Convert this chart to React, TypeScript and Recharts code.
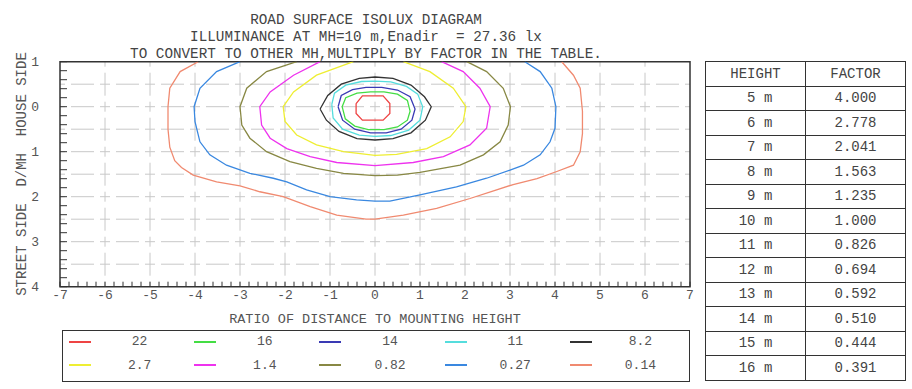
import React from 'react'
import { LineChart, Line, XAxis, YAxis, CartesianGrid, ReferenceArea, Legend } from 'recharts'

const FONT = '"Liberation Mono", "DejaVu Sans Mono", monospace'

// isolux levels (lx) and their colours, in legend order
const levels = ['22', '16', '14', '11', '8.2', '2.7', '1.4', '0.82', '0.27', '0.14']
const colors = ['#ee4444', '#44dd44', '#3a3ab4', '#55dddd', '#333333', '#eeee33', '#ee33ee', '#888844', '#3a88e0', '#f08a70']

// x = distance / MH, y = distance / MH (negative = house side, positive = street side)
const lux22 = [
  { x: -0.42, y: -0.07 }, { x: -0.28, y: -0.24 }, { x: 0.18, y: -0.24 }, { x: 0.33, y: -0.07 },
  { x: 0.33, y: 0.15 }, { x: 0.18, y: 0.3 }, { x: -0.28, y: 0.3 }, { x: -0.42, y: 0.15 }, { x: -0.42, y: -0.07 }
]
const lux16 = [
  { x: -0.73, y: 0 }, { x: -0.65, y: -0.2 }, { x: -0.4, y: -0.3 }, { x: -0.1, y: -0.33 }, { x: 0.2, y: -0.33 },
  { x: 0.5, y: -0.28 }, { x: 0.72, y: -0.14 }, { x: 0.78, y: 0.1 }, { x: 0.72, y: 0.3 }, { x: 0.5, y: 0.45 },
  { x: 0.2, y: 0.51 }, { x: -0.15, y: 0.51 }, { x: -0.45, y: 0.43 }, { x: -0.66, y: 0.27 }, { x: -0.73, y: 0 }
]
const lux14 = [
  { x: -0.82, y: 0 }, { x: -0.75, y: -0.25 }, { x: -0.5, y: -0.38 }, { x: -0.2, y: -0.43 }, { x: 0.15, y: -0.43 },
  { x: 0.5, y: -0.37 }, { x: 0.78, y: -0.22 }, { x: 0.89, y: 0.05 }, { x: 0.82, y: 0.3 }, { x: 0.58, y: 0.5 },
  { x: 0.25, y: 0.58 }, { x: -0.1, y: 0.58 }, { x: -0.45, y: 0.5 }, { x: -0.72, y: 0.3 }, { x: -0.82, y: 0 }
]
const lux11 = [
  { x: -0.96, y: -0.05 }, { x: -0.9, y: -0.3 }, { x: -0.65, y: -0.48 }, { x: -0.3, y: -0.56 }, { x: 0, y: -0.57 },
  { x: 0.35, y: -0.55 }, { x: 0.7, y: -0.45 }, { x: 0.95, y: -0.28 }, { x: 1.06, y: 0 }, { x: 1.0, y: 0.3 },
  { x: 0.75, y: 0.52 }, { x: 0.35, y: 0.64 }, { x: 0, y: 0.66 }, { x: -0.35, y: 0.63 }, { x: -0.72, y: 0.5 },
  { x: -0.93, y: 0.25 }, { x: -0.96, y: -0.05 }
]
const lux8_2 = [
  { x: -1.22, y: 0.05 }, { x: -1.05, y: -0.25 }, { x: -0.75, y: -0.5 }, { x: -0.35, y: -0.63 }, { x: 0, y: -0.66 },
  { x: 0.4, y: -0.63 }, { x: 0.8, y: -0.48 }, { x: 1.1, y: -0.22 }, { x: 1.25, y: 0 }, { x: 1.12, y: 0.3 },
  { x: 0.8, y: 0.58 }, { x: 0.4, y: 0.71 }, { x: 0, y: 0.74 }, { x: -0.4, y: 0.71 }, { x: -0.8, y: 0.55 },
  { x: -1.08, y: 0.3 }, { x: -1.22, y: 0.05 }
]
const lux2_7 = [
  { x: -0.48, y: -1 }, { x: -1.3, y: -0.7 }, { x: -1.81, y: -0.33 }, { x: -2.04, y: 0 }, { x: -2.0, y: 0.33 },
  { x: -1.74, y: 0.63 }, { x: -1.3, y: 0.85 }, { x: -0.7, y: 1.0 }, { x: 0, y: 1.08 }, { x: 0.48, y: 1.06 },
  { x: 1.15, y: 0.93 }, { x: 1.67, y: 0.67 }, { x: 1.96, y: 0.33 }, { x: 2.02, y: 0 }, { x: 1.74, y: -0.41 },
  { x: 1.22, y: -0.78 }, { x: 0.63, y: -1 }
]
const lux1_4 = [
  { x: -1.22, y: -1 }, { x: -1.81, y: -0.7 }, { x: -2.33, y: -0.33 }, { x: -2.56, y: 0 }, { x: -2.52, y: 0.41 },
  { x: -2.33, y: 0.7 }, { x: -1.96, y: 0.93 }, { x: -1.44, y: 1.11 }, { x: -0.85, y: 1.24 }, { x: 0, y: 1.31 },
  { x: 0.85, y: 1.24 }, { x: 1.52, y: 1.11 }, { x: 2.11, y: 0.85 }, { x: 2.48, y: 0.48 }, { x: 2.56, y: 0 },
  { x: 2.33, y: -0.41 }, { x: 1.96, y: -0.78 }, { x: 1.48, y: -1 }
]
const lux0_82 = [
  { x: -1.74, y: -1 }, { x: -2.41, y: -0.78 }, { x: -2.85, y: -0.41 }, { x: -3.0, y: 0 }, { x: -2.96, y: 0.41 },
  { x: -2.78, y: 0.7 }, { x: -2.41, y: 1.0 }, { x: -1.89, y: 1.22 }, { x: -1.3, y: 1.37 }, { x: -0.7, y: 1.48 },
  { x: 0, y: 1.53 }, { x: 0.5, y: 1.52 }, { x: 1.0, y: 1.46 }, { x: 1.89, y: 1.3 }, { x: 2.41, y: 1.07 },
  { x: 2.78, y: 0.78 }, { x: 2.96, y: 0.41 }, { x: 3.01, y: 0 }, { x: 2.85, y: -0.41 }, { x: 2.48, y: -0.78 },
  { x: 2.04, y: -1 }
]
const lux0_27 = [
  { x: -3.0, y: -1 }, { x: -3.52, y: -0.78 }, { x: -3.89, y: -0.41 }, { x: -4.02, y: 0 }, { x: -4.0, y: 0.33 },
  { x: -3.89, y: 0.78 }, { x: -3.67, y: 1.07 }, { x: -3.3, y: 1.3 }, { x: -2.78, y: 1.48 }, { x: -2.26, y: 1.59 },
  { x: -1.96, y: 1.67 }, { x: -1.52, y: 1.85 }, { x: -1.0, y: 2.0 }, { x: -0.41, y: 2.07 }, { x: 0, y: 2.1 },
  { x: 0.33, y: 2.1 }, { x: 1.0, y: 1.96 }, { x: 1.81, y: 1.78 }, { x: 2.48, y: 1.59 }, { x: 3.0, y: 1.41 },
  { x: 3.3, y: 1.3 }, { x: 3.67, y: 1.07 }, { x: 3.89, y: 0.78 }, { x: 4.0, y: 0.48 }, { x: 4.02, y: 0 },
  { x: 3.93, y: -0.41 }, { x: 3.67, y: -0.78 }, { x: 3.33, y: -1 }
]
const lux0_14 = [
  { x: -3.93, y: -1 }, { x: -4.33, y: -0.78 }, { x: -4.56, y: -0.41 }, { x: -4.6, y: 0 }, { x: -4.6, y: 0.5 },
  { x: -4.56, y: 0.9 }, { x: -4.45, y: 1.2 }, { x: -4.3, y: 1.35 }, { x: -4.04, y: 1.52 }, { x: -3.52, y: 1.67 },
  { x: -3.0, y: 1.76 }, { x: -2.56, y: 1.89 }, { x: -2.04, y: 2.0 }, { x: -1.44, y: 2.22 }, { x: -0.85, y: 2.41 },
  { x: -0.2, y: 2.5 }, { x: 0, y: 2.5 }, { x: 0.63, y: 2.41 }, { x: 1.37, y: 2.26 }, { x: 2.11, y: 2.04 },
  { x: 2.6, y: 1.88 }, { x: 3.07, y: 1.73 }, { x: 3.6, y: 1.6 }, { x: 4.04, y: 1.44 }, { x: 4.41, y: 1.3 },
  { x: 4.56, y: 1.0 }, { x: 4.61, y: 0.6 }, { x: 4.61, y: 0.1 }, { x: 4.56, y: -0.41 }, { x: 4.41, y: -0.7 },
  { x: 4.15, y: -1 }
]
const contours = [lux22, lux16, lux14, lux11, lux8_2, lux2_7, lux1_4, lux0_82, lux0_27, lux0_14]

const xTicks = [-7, -6, -5, -4, -3, -2, -1, 0, 1, 2, 3, 4, 5, 6, 7]
const yTicks = [-1, 0, 1, 2, 3, 4]
const gridX = [-6, -5, -4, -3, -2, -1, 0, 1, 2, 3, 4, 5, 6]
const gridY = [-0.5, 0, 0.5, 1, 1.5, 2, 2.5, 3, 3.5]
const minorX = Array.from({ length: 71 }, (_, i) => Math.round((-7 + i * 0.2) * 10) / 10)
const minorY = Array.from({ length: 26 }, (_, i) => Math.round((-1 + i * 0.2) * 10) / 10)

// conversion table
const heights = [' 5 m', ' 6 m', ' 7 m', ' 8 m', ' 9 m', '10 m', '11 m', '12 m', '13 m', '14 m', '15 m', '16 m']
const factors = ['4.000', '2.778', '2.041', '1.563', '1.235', '1.000', '0.826', '0.694', '0.592', '0.510', '0.444', '0.391']

const titleLines = [
  'ROAD SURFACE ISOLUX DIAGRAM',
  'ILLUMINANCE AT MH=10 m,Enadir  = 27.36 lx',
  'TO CONVERT TO OTHER MH,MULTIPLY BY FACTOR IN THE TABLE.'
]

const tickStyle = { fontFamily: FONT, fontSize: 13, fill: '#555' }

function LegendBox({ payload }: any) {
  const items = [...(payload || [])].sort(
    (a: any, b: any) => levels.indexOf(String(a.value)) - levels.indexOf(String(b.value))
  )
  return (
    <div style={{
      border: '1px solid #333', height: 52, boxSizing: 'border-box', paddingTop: 3,
      display: 'grid', gridTemplateColumns: 'repeat(5, 1fr)', fontFamily: FONT, fontSize: 13, color: '#555'
    }}>
      {items.map((p: any) => {
        const c = colors[levels.indexOf(String(p.value))] || p.color
        return (
          <div key={p.value} style={{ display: 'flex', alignItems: 'center', height: 15 }}>
            <div style={{ width: 22, height: 2, marginLeft: 6, background: c }} />
            <span style={{ flex: 1, textAlign: 'center', whiteSpace: 'pre' }}>{p.value}</span>
          </div>
        )
      })}
    </div>
  )
}

export default function App() {
  return (
    <div style={{ position: 'absolute', left: 0, top: 0, width: 912, height: 389, background: '#fff', overflow: 'hidden' }}>
      {titleLines.map((t, i) => (
        <div key={i} style={{
          position: 'absolute', left: 0, width: 732, top: 12 + i * 17, textAlign: 'center',
          fontFamily: FONT, fontSize: 14.3, lineHeight: '17px', color: '#444', whiteSpace: 'pre'
        }}>{t}</div>
      ))}
      <div style={{
        position: 'absolute', left: 13, top: 174, width: 18, height: 0, fontFamily: FONT, fontSize: 14, color: '#555'
      }}>
        <div style={{
          position: 'absolute', left: 0, top: 0, whiteSpace: 'pre', transform: 'translate(-50%, -50%) rotate(-90deg)',
          transformOrigin: 'center', marginLeft: 9
        }}>STREET SIDE  D/MH  HOUSE SIDE</div>
      </div>

      <div style={{ position: 'absolute', left: 0, top: 0 }}>
        <LineChart width={700} height={389} margin={{ top: 61.7, right: 10, bottom: 62.3, left: 0 }}>
          <CartesianGrid xAxisId="lab" yAxisId="lab" horizontalValues={gridY} verticalValues={gridX}
            stroke="#c8c8c8" strokeDasharray="10 6 23 6" strokeDashoffset={5} />
          <XAxis xAxisId="lab" type="number" dataKey="x" domain={[-7, 7]} ticks={xTicks} allowDataOverflow
            height={40} tickLine={false} axisLine={false} tickSize={0} tickMargin={3} tick={tickStyle} interval={0}
            label={{ value: 'RATIO OF DISTANCE TO MOUNTING HEIGHT', position: 'insideBottom', offset: 4,
              style: { fontFamily: FONT, fontSize: 13.5, fill: '#555' } }} />
          <XAxis xAxisId="minor" type="number" dataKey="x" domain={[-7, 7]} ticks={minorX} allowDataOverflow
            mirror height={1} tickSize={5} axisLine={false} tickLine={{ stroke: '#333' }}
            tickFormatter={() => ''} interval={0} />
          <YAxis yAxisId="lab" type="number" domain={[-1, 4]} ticks={yTicks} reversed allowDataOverflow
            width={60} tickLine={false} axisLine={false} tickSize={0} tickMargin={21} tick={tickStyle} interval={0}
            tickFormatter={(v: number) => String(Math.abs(v))} />
          <YAxis yAxisId="minor" type="number" domain={[-1, 4]} ticks={minorY} reversed allowDataOverflow
            mirror width={1} tickSize={7} axisLine={false} tickLine={{ stroke: '#333' }}
            tickFormatter={() => ''} interval={0} />
          <ReferenceArea xAxisId="lab" yAxisId="lab" x1={-7} x2={7} y1={-1} y2={4}
            fill="none" stroke="#333" strokeWidth={1.5} />
          {contours.map((c, i) => (
            <Line key={levels[i]} xAxisId="lab" yAxisId="lab" data={c} dataKey="y" name={levels[i]}
              type="linear" stroke={colors[i]} strokeWidth={1.3} dot={false} activeDot={false}
              isAnimationActive={false} />
          ))}
          <Legend layout="horizontal" verticalAlign="middle" align="center" content={<LegendBox />}
            wrapperStyle={{ position: 'absolute', left: 62, top: 330, width: 628, height: 52 }} />
        </LineChart>
      </div>

      <table style={{
        position: 'absolute', left: 705, top: 61, width: 201, borderCollapse: 'collapse',
        fontFamily: FONT, fontSize: 14, color: '#444', tableLayout: 'fixed'
      }}>
        <tbody>
          <tr style={{ height: 24.5 }}>
            <td style={cellStyle}>HEIGHT</td>
            <td style={cellStyle}>FACTOR</td>
          </tr>
          {heights.map((h, i) => (
            <tr key={h} style={{ height: 24.5 }}>
              <td style={cellStyle}>{h}</td>
              <td style={cellStyle}>{factors[i]}</td>
            </tr>
          ))}
        </tbody>
      </table>
    </div>
  )
}

const cellStyle: React.CSSProperties = {
  border: '1px solid #333', textAlign: 'center', padding: 0, whiteSpace: 'pre', width: '50%'
}
